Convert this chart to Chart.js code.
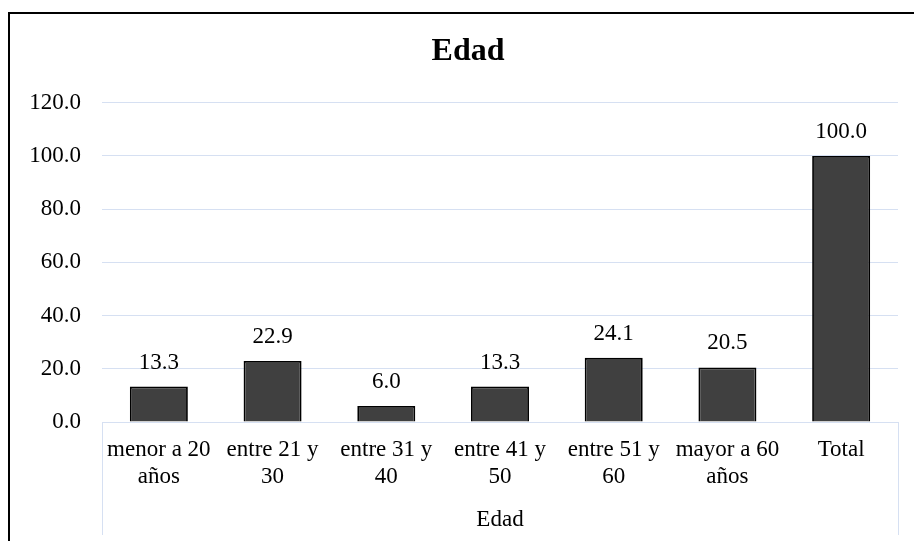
<!DOCTYPE html>
<html>
<head>
<meta charset="utf-8">
<script src="https://cdn.jsdelivr.net/npm/chart.js@4/dist/chart.umd.min.js"></script>
<style>
  html, body { margin: 0; padding: 0; width: 914px; height: 541px; overflow: hidden; background: #fff; }
  .frame { position: absolute; left: 8px; top: 12px; width: 2000px; height: 2000px;
           border-left: 2px solid #000; border-top: 2px solid #000; }
  #c { position: absolute; left: 10px; top: 13px; }
</style>
</head>
<body>
<div class="frame"></div>
<canvas id="c" width="916" height="535"></canvas>
<script>
const categories = [
  ['menor a 20', 'años'],
  ['entre 21 y', '30'],
  ['entre 31 y', '40'],
  ['entre 41 y', '50'],
  ['entre 51 y', '60'],
  ['mayor a 60', 'años'],
  ['Total']
];
const values = [13.3, 22.9, 6.0, 13.3, 24.1, 20.5, 100.0];
const chartTitle = 'Edad';
const groupLabel = 'Edad';
const yMin = 0, yMax = 120, yStep = 20;

const FONT = "'Liberation Serif', 'Times New Roman', serif";
const GRID = 'rgb(214,224,242)';

const valueLabels = {
  id: 'valueLabels',
  afterDatasetsDraw(chart) {
    const ctx = chart.ctx;
    const meta = chart.getDatasetMeta(0);
    ctx.save();
    ctx.font = '23px ' + FONT;
    ctx.fillStyle = '#000';
    ctx.textAlign = 'center';
    ctx.textBaseline = 'middle';
    meta.data.forEach((bar, i) => {
      ctx.fillText(values[i].toFixed(1), bar.x, bar.y - 24);
    });
    ctx.restore();
  }
};

const groupBox = {
  id: 'groupBox',
  afterDraw(chart) {
    const ctx = chart.ctx;
    const a = chart.chartArea;
    const xs = chart.scales.x;
    ctx.save();
    ctx.strokeStyle = GRID;
    ctx.lineWidth = 1;
    ctx.beginPath();
    [a.left, a.right].forEach(x => {
      ctx.moveTo(Math.round(x) + 0.5, a.bottom);
      ctx.lineTo(Math.round(x) + 0.5, xs.bottom - 13);
    });
    ctx.stroke();
    ctx.restore();
  }
};

new Chart(document.getElementById('c'), {
  type: 'bar',
  data: {
    labels: categories,
    datasets: [{
      data: values,
      backgroundColor: '#404040',
      borderColor: '#000',
      borderWidth: 1.8,
      categoryPercentage: 1,
      barPercentage: 0.51
    }]
  },
  options: {
    responsive: false,
    animation: false,
    layout: { padding: { left: 0, right: 0, top: 0, bottom: 0 } },
    plugins: {
      legend: { display: false },
      tooltip: { enabled: false },
      title: {
        display: true,
        text: chartTitle,
        color: '#000',
        font: { family: FONT, size: 32, weight: 'bold', lineHeight: 1.2 },
        padding: { top: 20, bottom: 31.3 }
      }
    },
    scales: {
      x: {
        grid: { display: false, drawTicks: false },
        border: { display: true, color: GRID, width: 1 },
        ticks: {
          color: '#000',
          padding: 14,
          maxRotation: 0,
          autoSkip: false,
          font: { family: FONT, size: 23, lineHeight: 1.2 }
        },
        title: {
          display: true,
          text: groupLabel,
          color: '#000',
          font: { family: FONT, size: 23, lineHeight: 1.2 },
          padding: { top: 0, bottom: 14.2 }
        },
        afterFit(scale) { scale.height = 126; scale.paddingRight = 28; }
      },
      y: {
        min: yMin,
        max: yMax,
        grid: { color: GRID, lineWidth: 1, drawTicks: false },
        border: { display: false },
        ticks: {
          stepSize: yStep,
          color: '#000',
          padding: 21,
          font: { family: FONT, size: 23 },
          callback: v => Number(v).toFixed(1)
        },
        afterFit(scale) { scale.width = 92; }
      }
    }
  },
  plugins: [valueLabels, groupBox]
});
</script>
</body>
</html>
